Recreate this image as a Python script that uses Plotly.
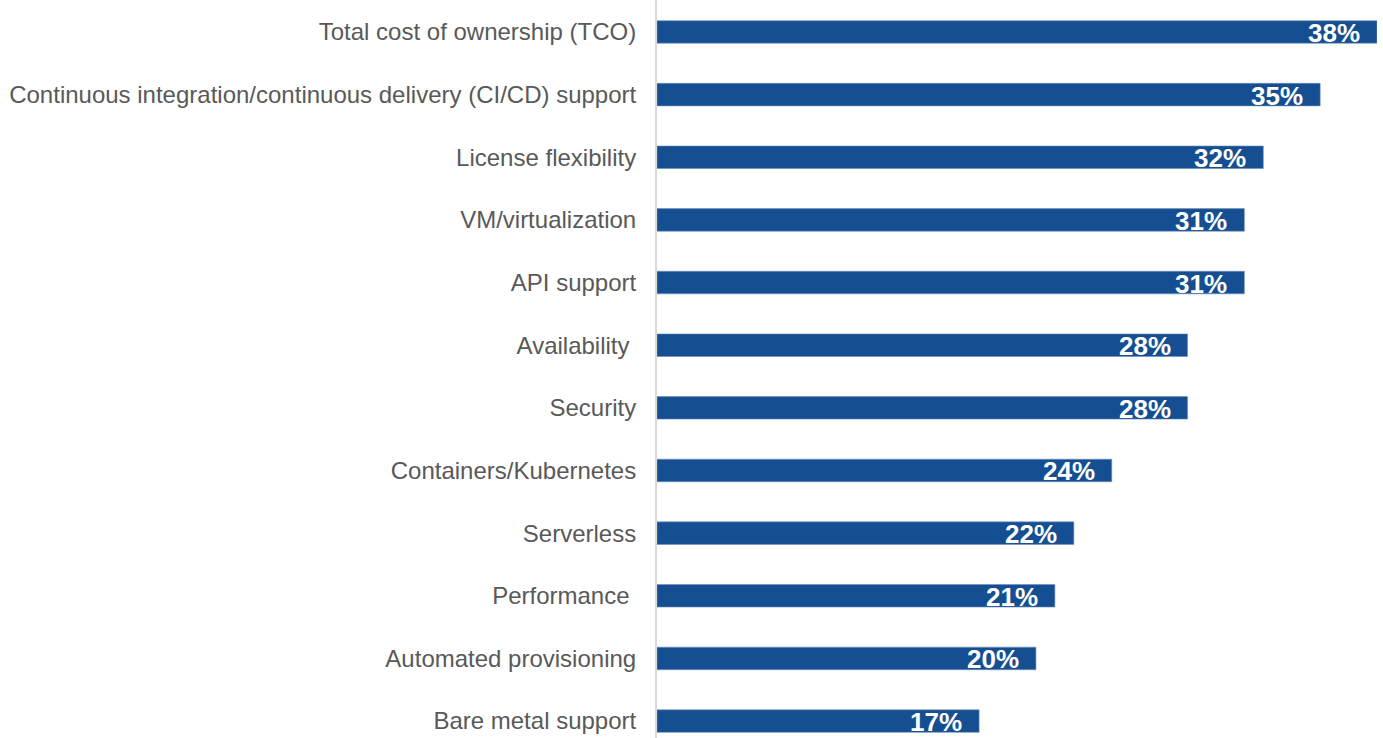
import plotly.graph_objects as go

categories = [
    "Total cost of ownership (TCO)",
    "Continuous integration/continuous delivery (CI/CD) support",
    "License flexibility",
    "VM/virtualization",
    "API support",
    "Availability ",
    "Security",
    "Containers/Kubernetes",
    "Serverless",
    "Performance ",
    "Automated provisioning",
    "Bare metal support",
]
values = [38, 35, 32, 31, 31, 28, 28, 24, 22, 21, 20, 17]
value_labels = [f"{v}%" for v in values]

fig = go.Figure()
fig.add_trace(go.Bar(
    x=values, y=categories, orientation="h",
    marker=dict(color="#154F91", line=dict(color="#6F8FBF", width=0.6)),
    width=0.36, hoverinfo="skip",
))

for c, v, t in zip(categories, values, value_labels):
    fig.add_annotation(
        x=v, y=c, text=f"<b>{t}</b>", showarrow=False,
        xanchor="right", yanchor="middle", xshift=-15, yshift=-1,
        font=dict(family="Liberation Sans, Arial", size=26, color="white"),
    )

fig.update_layout(
    width=1383, height=738,
    margin=dict(l=657, r=6, t=0, b=0),
    paper_bgcolor="white", plot_bgcolor="white",
    showlegend=False,
    font=dict(family="Liberation Sans, Arial", size=24, color="#595959"),
    xaxis=dict(range=[0, 38], visible=False, fixedrange=True),
    yaxis=dict(
        type="category", categoryorder="array", categoryarray=categories,
        range=[11.27, -0.51], fixedrange=True,
        showgrid=False, zeroline=False,
        showline=True, linecolor="#D9D9D9", linewidth=2,
        ticks="", ticklabelstandoff=14,
        tickfont=dict(family="Liberation Sans, Arial", size=24, color="#595959"),
    ),
)

fig.write_html(
    "out.html",
    config={"displayModeBar": False},
    post_script="document.body.style.margin='0';document.body.style.overflow='hidden';",
)
